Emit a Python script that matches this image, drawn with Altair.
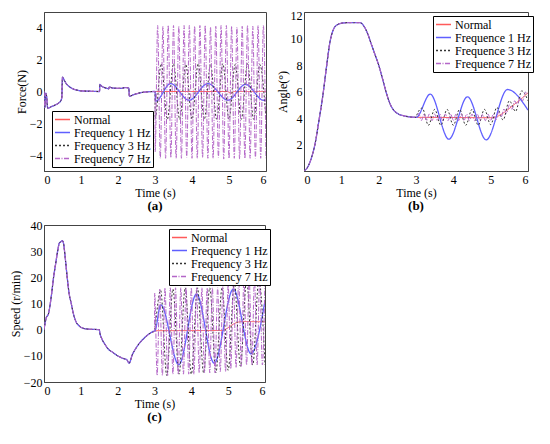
import altair as alt
import pandas as pd

FONT = "Liberation Serif, 'Times New Roman', Times, serif"

# ---------------- shared time grids for the oscillating series (extrema) ----------------
T3 = [3.005, 3.167, 3.333, 3.5, 3.667, 3.833, 4.0, 4.167, 4.333, 4.5,
      4.667, 4.833, 5.0, 5.167, 5.333, 5.5, 5.667, 5.833, 6.0]
T7 = [3.005, 3.071, 3.143, 3.214, 3.286, 3.357, 3.429, 3.5, 3.571, 3.643,
      3.714, 3.786, 3.857, 3.929, 4.0, 4.071, 4.143, 4.214, 4.286, 4.357,
      4.429, 4.5, 4.571, 4.643, 4.714, 4.786, 4.857, 4.929, 5.0, 5.071,
      5.143, 5.214, 5.286, 5.357, 5.429, 5.5, 5.571, 5.643, 5.714, 5.786,
      5.857, 5.929, 6.0]

# ---------------- panel (a): Force ----------------
ta_common = [0, 0.02, 0.05, 0.07, 0.1, 0.2, 0.3, 0.4, 0.45, 0.48,
             0.5, 0.55, 0.6, 0.7, 0.8, 0.9, 1.0, 1.2, 1.5, 1.51,
             1.55, 1.6, 1.7, 1.75, 1.76, 1.85, 2.0, 2.1, 2.2, 2.29,
             2.31, 2.4, 2.6, 2.8, 3.0]
fa_common = [0, -1.0, -0.1, -0.3, -1.05, -0.95, -0.85, -0.72, -0.6, -0.4,
             0.9, 0.7, 0.5, 0.28, 0.15, 0.08, 0.04, 0.02, 0.0, 0.45,
             0.35, 0.28, 0.2, 0.17, 0.28, 0.22, 0.2, 0.2, 0.25, 0.22,
             -0.3, -0.22, -0.08, -0.02, 0.0]
ta_normal = [3.005, 4.95, 5.05, 5.15, 6.0]
fa_normal = [0.0, 0.0, -0.1, 0.0, 0.0]
ta_1hz = [3.02, 3.42, 3.92, 4.43, 4.97, 5.45, 5.93, 6.0]
fa_1hz = [-0.6, 0.5, -0.55, 0.5, -0.55, 0.45, -0.55, -0.54]
fa_3hz = [-1.7, 1.75, -1.75, 1.75, -1.75, 1.7, -1.75, 1.75, -1.75, 1.7,
          -1.75, 1.75, -1.75, 1.7, -1.75, 1.75, -1.75, 1.7, -1.75]
fa_7hz = [-3.8, 4.15, -4.2, 4.1, -4.2, 4.15, -4.15, 4.15, -4.2, 4.1,
          -4.2, 4.15, -4.15, 4.15, -4.2, 4.1, -4.2, 4.15, -4.15, 4.15,
          -4.2, 4.05, -4.2, 4.1, -4.15, 4.15, -4.25, 4.15, -4.2, 4.1,
          -4.2, 4.05, -4.25, 4.1, -4.2, 4.15, -4.2, 4.1, -4.2, 4.15,
          -4.2, 4.15, -4.2]

# ---------------- panel (b): Angle ----------------
tb_common = [0, 0.1, 0.2, 0.3, 0.4, 0.5, 0.6, 0.7, 0.8, 0.9,
             1.0, 1.2, 1.5, 1.6, 1.7, 1.8, 1.9, 2.0, 2.1, 2.2,
             2.3, 2.4, 2.5, 2.7, 3.0]
ab_common = [0, 0.3, 1.0, 2.1, 3.8, 5.6, 7.8, 9.8, 10.75, 11.05,
             11.15, 11.2, 11.2, 10.95, 10.4, 9.6, 8.8, 8.0, 7.0, 5.95,
             5.1, 4.6, 4.35, 4.15, 4.05]
tb_normal = [3.005, 5.05, 5.2, 5.4, 5.6, 5.8, 6.0]
ab_normal = [4.05, 4.02, 4.15, 4.5, 4.95, 5.4, 5.9]
tb_1hz = [3.005, 3.38, 3.88, 4.38, 4.88, 5.45, 6.0]
ab_1hz = [4.05, 5.8, 2.4, 5.6, 2.35, 6.15, 4.6]
ab_3hz = [4.1, 4.75, 3.45, 4.65, 3.45, 4.65, 3.45, 4.65, 3.45, 4.65,
          3.45, 4.65, 3.5, 4.8, 3.85, 5.3, 4.5, 6.05, 5.3]
ab_7hz = [4.05, 4.35, 3.8, 4.3, 3.8, 4.3, 3.8, 4.3, 3.8, 4.3,
          3.8, 4.3, 3.8, 4.3, 3.8, 4.3, 3.8, 4.3, 3.8, 4.3,
          3.8, 4.3, 3.8, 4.3, 3.8, 4.3, 3.8, 4.3, 3.8, 4.3,
          3.85, 4.45, 4.1, 4.7, 4.35, 5.0, 4.65, 5.3, 4.95, 5.6,
          5.3, 5.95, 5.7]

# ---------------- panel (c): Speed ----------------
tc_common = [0, 0.06, 0.12, 0.2, 0.26, 0.32, 0.37, 0.42, 0.46, 0.5,
             0.53, 0.58, 0.63, 0.68, 0.74, 0.8, 0.87, 0.95, 1.05, 1.2,
             1.5, 1.52, 1.57, 1.65, 1.75, 1.85, 2.0, 2.15, 2.25, 2.31,
             2.4, 2.5, 2.6, 2.7, 2.8, 2.9, 3.0]
sc_common = [0, 4.5, 6.0, 13.0, 20.0, 25.5, 30.0, 33.2, 33.6, 34.0,
             33.0, 27.0, 20.0, 14.0, 10.0, 6.0, 3.0, 1.5, 0.6, 0.2,
             0.0, -1.5, -3.5, -5.5, -7.5, -8.5, -10.0, -11.0, -11.5, -12.8,
             -9.5, -7.0, -5.0, -3.5, -2.2, -1.2, -0.5]
tc_normal = [3.005, 4.85, 4.95, 5.05, 5.15, 5.25, 5.4, 6.0]
sc_normal = [-0.4, -0.3, 0.3, 1.3, 2.2, 2.8, 3.1, 3.0]
tc_1hz = [3.005, 3.17, 3.66, 4.14, 4.62, 5.14, 5.62, 6.0]
sc_1hz = [-0.5, 9.5, -13.4, 13.6, -12.8, 15.5, -9.2, 11.0]
sc_3hz = [0.0, 15.0, -17.5, 15.5, -17.0, 16.0, -17.0, 16.0, -16.5, 16.0,
          -16.5, 16.0, -15.5, 18.0, -14.0, 19.0, -13.5, 19.0, -13.5]
sc_7hz = [14.0, -17.5, 15.5, -17.5, 16.0, -17.5, 16.0, -17.0, 16.0, -17.0,
          16.0, -17.0, 16.0, -17.0, 16.0, -17.0, 16.0, -16.5, 16.0, -16.5,
          16.0, -16.5, 16.0, -16.5, 16.0, -16.0, 16.5, -16.0, 17.0, -15.0,
          18.0, -14.5, 19.0, -14.0, 19.5, -13.5, 19.5, -13.5, 19.5, -13.5,
          19.5, -13.5, 19.5]

COLORS = ["#ff5a5a", "#5f5fff", "#333333", "#b466c8"]
DASHES = [[1, 0], [1, 0], [2, 2], [5, 1.5, 1, 1.5]]
WIDTHS = [1.0, 1.3, 1.0, 1.0]


def panel(common_t, common_v, parts, names, ytitle, ydomain, yticks,
          w, h, lx, ly, label, flush=False):
    layers = []
    for i, (ts, vs) in enumerate(parts):
        df = pd.DataFrame({"t": common_t + ts, "v": common_v + vs})
        df["series"] = names[i]
        layers.append(
            alt.Chart(df).mark_line(interpolate="monotone",
                                    strokeWidth=WIDTHS[i], clip=True).encode(
                x=alt.X("t:Q", title="Time (s)",
                        scale=alt.Scale(domain=[0, 6], nice=False),
                        axis=alt.Axis(values=[0, 1, 2, 3, 4, 5, 6], format="d")),
                y=alt.Y("v:Q", title=ytitle,
                        scale=alt.Scale(domain=ydomain, nice=False, zero=False),
                        axis=alt.Axis(values=yticks, format="d",
                                      labelFlush=flush, labelFlushOffset=2)),
                color=alt.Color("series:N",
                                scale=alt.Scale(domain=names, range=COLORS),
                                legend=alt.Legend(title=None, orient="none",
                                                  legendX=lx, legendY=ly)),
                strokeDash=alt.StrokeDash("series:N",
                                          scale=alt.Scale(domain=names, range=DASHES),
                                          legend=alt.Legend(title=None, orient="none",
                                                            legendX=lx, legendY=ly)),
            )
        )
    return alt.layer(*layers).properties(
        width=w, height=h,
        title=alt.TitleParams(label, orient="bottom", font=FONT, fontSize=13,
                              fontWeight="bold", offset=2),
    )


names_y = ["Normal", "Frequency 1 Hz", "Frequency 3 Hz", "Frequency 7 Hz"]
names_e = ["Normal", "Frequence 1 Hz", "Frequence 3 Hz", "Frequence 7 Hz"]

A = panel(ta_common, fa_common,
          [(ta_normal, fa_normal), (ta_1hz, fa_1hz), (T3, fa_3hz), (T7, fa_7hz)],
          names_y, "Force(N)", [-5, 5], [-4, -2, 0, 2, 4], 222, 159, 8, 99, "(a)")
B = panel(tb_common, ab_common,
          [(tb_normal, ab_normal), (tb_1hz, ab_1hz), (T3, ab_3hz), (T7, ab_7hz)],
          names_e, "Angle(°)", [0, 12], [2, 4, 6, 8, 10, 12], 224, 159, 129, 4, "(b)",
          flush=True)
C = panel(tc_common, sc_common,
          [(tc_normal, sc_normal), (tc_1hz, sc_1hz), (T3, sc_3hz), (T7, sc_7hz)],
          names_y, "Speed (r/min)", [-20, 40], [-20, -10, 0, 10, 20, 30, 40],
          221, 157, 125, 4, "(c)")

top = alt.hconcat(A, B, spacing=8).resolve_scale(color="independent",
                                                  strokeDash="independent")
chart = alt.concat(top, C, columns=1, spacing=4, align="none").resolve_scale(
    color="independent", strokeDash="independent"
).properties(padding=0).configure(
    font=FONT
).configure_view(
    stroke="#444444", strokeWidth=1
).configure_axis(
    labelFont=FONT, labelFontSize=12, titleFont=FONT, titleFontSize=12,
    titleFontWeight="normal", domainColor="#444444", ticks=False, tickSize=0,
    labelColor="black", titleColor="black", grid=False,
    labelPadding=3, titlePadding=2,
).configure_axisY(labelPadding=2, titlePadding=1).configure_legend(
    labelFont=FONT, labelFontSize=12, labelColor="black",
    symbolType="stroke", symbolSize=225, symbolStrokeWidth=1.3, clipHeight=13,
    strokeColor="black", fillColor="white", padding=2, rowPadding=0,
    labelOffset=3,
)

chart.save("out.html", embed_options={"renderer": "svg", "actions": False})
